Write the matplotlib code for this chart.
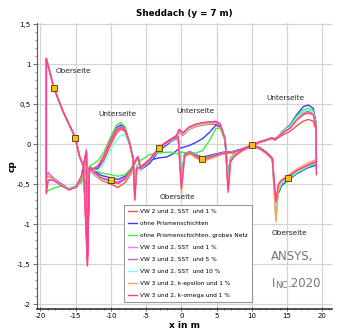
import matplotlib
matplotlib.use('Agg')
import matplotlib.pyplot as plt
from matplotlib.ticker import MultipleLocator, FuncFormatter
from matplotlib.lines import Line2D

plt.rcParams['axes.unicode_minus'] = False
plt.rcParams['font.family'] = ['DejaVu Sans']

# x positions (m) of the traced points: "ober" chain and "unter" chain
x_ober = [-19.17, -18.08, -16.8, -15.04, -14.5, -13.9, -13.34, -13.05, -12.4, -11.4,
          -10.03, -9.0, -8.0, -7.1, -6.5, -6.15, -5.8, -4.5, -3.17, -2.1,
          -1.2, -0.45, 0.0, 0.45, 1.2, 2.0, 2.94, 4.5, 5.9, 7.3,
          8.5, 10.04, 11.1, 12.1, 12.9, 13.41, 13.75, 14.2, 15.1, 16.35,
          17.8, 19.1]
x_unter = [-19.17, -19.17, -18.9, -18.2, -17.0, -15.9, -14.9, -14.2, -13.72, -13.48,
           -13.34, -13.05, -12.4, -11.8, -11.0, -10.0, -9.2, -8.6, -8.0, -7.3,
           -6.85, -6.62, -6.35, -5.8, -4.5, -3.17, -2.1, -1.2, -0.7, -0.3,
           0.2, 1.0, 2.0, 3.0, 4.0, 4.9, 5.5, 6.2, 6.63, 6.95,
           7.4, 8.5, 10.04, 11.1, 12.2, 12.8, 13.3, 13.75, 14.45, 15.4,
           16.35, 17.3, 18.0, 18.7, 19.1, 19.15]

o_red = [1.07, 0.70, 0.41, 0.08, -0.14, -0.28, -1.45, -0.32, -0.38, -0.45, -0.50, -0.54, -0.48, -0.36, -0.22, -0.18, -0.31, -0.22, -0.07, 0.01, 0.06, 0.08, -0.50, -0.15, -0.11, -0.16, -0.20, -0.16, -0.12, -0.11, -0.08, -0.02, -0.06, -0.12, -0.19, -0.75, -0.52, -0.45, -0.41, -0.33, -0.27, -0.22]
o_blue = [1.07, 0.70, 0.41, 0.08, -0.14, -0.28, -0.80, -0.29, -0.33, -0.39, -0.42, -0.44, -0.40, -0.30, -0.20, -0.18, -0.32, -0.24, -0.08, -0.01, 0.05, 0.07, -0.42, -0.12, -0.09, -0.13, -0.16, -0.13, -0.10, -0.09, -0.06, -0.01, -0.04, -0.10, -0.17, -0.82, -0.62, -0.52, -0.45, -0.37, -0.30, -0.26]
o_green = [1.07, 0.70, 0.41, 0.08, -0.14, -0.28, -0.78, -0.27, -0.32, -0.36, -0.38, -0.40, -0.38, -0.30, -0.21, -0.18, -0.28, -0.19, -0.05, 0.02, 0.06, 0.08, -0.38, -0.13, -0.10, -0.14, -0.18, -0.14, -0.11, -0.10, -0.07, -0.01, -0.05, -0.11, -0.18, -0.95, -0.60, -0.50, -0.44, -0.36, -0.29, -0.24]
o_magenta = [1.07, 0.70, 0.41, 0.08, -0.14, -0.28, -1.40, -0.30, -0.35, -0.42, -0.45, -0.47, -0.42, -0.31, -0.19, -0.15, -0.29, -0.19, -0.04, 0.03, 0.08, 0.10, -0.52, -0.14, -0.10, -0.15, -0.19, -0.15, -0.11, -0.10, -0.07, -0.01, -0.05, -0.11, -0.18, -0.78, -0.53, -0.46, -0.41, -0.33, -0.26, -0.21]
o_purple = [1.07, 0.70, 0.41, 0.08, -0.14, -0.28, -1.35, -0.31, -0.36, -0.43, -0.46, -0.48, -0.43, -0.32, -0.20, -0.16, -0.30, -0.20, -0.05, 0.02, 0.07, 0.09, -0.50, -0.14, -0.10, -0.15, -0.19, -0.15, -0.11, -0.10, -0.07, -0.01, -0.05, -0.11, -0.18, -0.88, -0.56, -0.47, -0.42, -0.34, -0.27, -0.22]
o_cyan = [1.07, 0.70, 0.41, 0.08, -0.14, -0.28, -1.20, -0.32, -0.37, -0.44, -0.48, -0.50, -0.45, -0.34, -0.21, -0.17, -0.31, -0.21, -0.06, 0.01, 0.06, 0.08, -0.48, -0.14, -0.10, -0.15, -0.19, -0.15, -0.11, -0.10, -0.07, -0.01, -0.05, -0.11, -0.18, -0.85, -0.57, -0.48, -0.43, -0.35, -0.28, -0.23]
o_orange = [1.07, 0.70, 0.41, 0.08, -0.14, -0.28, -1.30, -0.31, -0.36, -0.43, -0.46, -0.49, -0.44, -0.33, -0.21, -0.17, -0.30, -0.20, -0.05, 0.02, 0.07, 0.09, -0.62, -0.16, -0.12, -0.17, -0.22, -0.17, -0.12, -0.11, -0.07, -0.01, -0.05, -0.11, -0.18, -0.97, -0.55, -0.45, -0.39, -0.31, -0.24, -0.19]
o_pink = [1.07, 0.70, 0.41, 0.08, -0.14, -0.28, -1.52, -0.30, -0.35, -0.42, -0.46, -0.49, -0.43, -0.32, -0.20, -0.16, -0.30, -0.20, -0.05, 0.02, 0.07, 0.09, -0.55, -0.14, -0.10, -0.15, -0.19, -0.15, -0.11, -0.10, -0.07, -0.01, -0.05, -0.11, -0.18, -0.72, -0.50, -0.45, -0.41, -0.33, -0.27, -0.22]

u_red = [1.07, -0.37, -0.36, -0.42, -0.50, -0.56, -0.54, -0.45, -0.25, -0.12,
         -1.45,
         -0.31, -0.33, -0.30, -0.20, 0.00, 0.14, 0.19, 0.16, -0.02, -0.20,
         -0.68,
         -0.32, -0.31, -0.21, -0.06, 0.01, 0.06, 0.09, 0.14, 0.11, 0.18, 0.22, 0.24, 0.25, 0.25, 0.22, 0.05,
         -0.57,
         -0.22, -0.16, -0.09, -0.02, 0.02, 0.05, 0.07, 0.05, 0.08, 0.12, 0.16, 0.23, 0.29, 0.31, 0.29, 0.18, -0.30]
u_blue = [1.07, -0.48, -0.45, -0.43, -0.50, -0.56, -0.52, -0.40, -0.18, -0.08,
          -0.80,
          -0.29, -0.32, -0.30, -0.15, 0.08, 0.21, 0.24, 0.20, 0.00, -0.18,
          -0.50,
          -0.30, -0.30, -0.20, -0.17, -0.16, -0.12, -0.08, -0.05, -0.04, -0.02, 0.02, 0.07, 0.15, 0.24, 0.22, 0.05,
          -0.40,
          -0.18, -0.13, -0.07, 0.00, 0.03, 0.06, 0.08, 0.07, 0.10, 0.17, 0.24, 0.37, 0.47, 0.49, 0.45, 0.28, -0.26]
u_green = [1.07, -0.60, -0.58, -0.55, -0.52, -0.55, -0.52, -0.48, -0.38, -0.28,
           -0.78,
           -0.27, -0.24, -0.20, -0.10, 0.10, 0.24, 0.27, 0.22, 0.02, -0.17,
           -0.45,
           -0.28, -0.20, -0.13, -0.11, -0.10, -0.10, -0.12, -0.10, -0.10, -0.11, -0.11, -0.08, 0.05, 0.20, 0.20, 0.05,
           -0.35,
           -0.17, -0.13, -0.07, -0.01, 0.03, 0.06, 0.08, 0.07, 0.10, 0.17, 0.23, 0.35, 0.43, 0.45, 0.42, 0.26, -0.24]
u_magenta = [1.07, -0.40, -0.35, -0.42, -0.52, -0.57, -0.53, -0.40, -0.18, -0.06,
             -1.40,
             -0.30, -0.30, -0.26, -0.14, 0.06, 0.19, 0.22, 0.19, 0.00, -0.18,
             -0.60,
             -0.30, -0.29, -0.19, -0.04, 0.03, 0.08, 0.11, 0.19, 0.14, 0.21, 0.25, 0.27, 0.28, 0.29, 0.26, 0.07,
             -0.55,
             -0.22, -0.15, -0.08, -0.01, 0.03, 0.06, 0.08, 0.06, 0.09, 0.15, 0.21, 0.32, 0.40, 0.42, 0.39, 0.24, -0.30]
u_purple = [1.07, -0.43, -0.40, -0.43, -0.51, -0.57, -0.53, -0.42, -0.20, -0.10,
            -1.35,
            -0.30, -0.30, -0.27, -0.16, 0.04, 0.17, 0.21, 0.18, -0.01, -0.19,
            -0.60,
            -0.31, -0.30, -0.20, -0.05, 0.02, 0.07, 0.10, 0.17, 0.13, 0.20, 0.24, 0.26, 0.27, 0.28, 0.25, 0.06,
            -0.50,
            -0.20, -0.15, -0.08, -0.01, 0.03, 0.06, 0.08, 0.06, 0.09, 0.15, 0.21, 0.32, 0.39, 0.41, 0.38, 0.24, -0.22]
u_cyan = [1.07, -0.46, -0.45, -0.44, -0.51, -0.56, -0.52, -0.43, -0.22, -0.12,
          -1.20,
          -0.32, -0.33, -0.32, -0.24, -0.06, 0.06, 0.11, 0.12, -0.02, -0.20,
          -0.55,
          -0.32, -0.31, -0.21, -0.06, 0.01, 0.06, 0.09, 0.15, 0.12, 0.19, 0.23, 0.25, 0.26, 0.27, 0.24, 0.06,
          -0.48,
          -0.19, -0.14, -0.08, -0.01, 0.03, 0.06, 0.08, 0.06, 0.09, 0.16, 0.22, 0.33, 0.41, 0.43, 0.40, 0.25, -0.23]
u_orange = [1.07, -0.42, -0.40, -0.44, -0.52, -0.57, -0.53, -0.42, -0.22, -0.10,
            -1.30,
            -0.31, -0.31, -0.27, -0.15, 0.05, 0.18, 0.21, 0.18, -0.01, -0.19,
            -0.60,
            -0.31, -0.30, -0.20, -0.05, 0.02, 0.07, 0.10, 0.16, 0.13, 0.20, 0.24, 0.26, 0.27, 0.27, 0.24, 0.06,
            -0.52,
            -0.20, -0.15, -0.08, -0.01, 0.03, 0.06, 0.08, 0.06, 0.09, 0.15, 0.20, 0.31, 0.38, 0.40, 0.37, 0.23, -0.19]
u_pink = [1.07, -0.62, -0.45, -0.45, -0.52, -0.57, -0.53, -0.41, -0.20, -0.09,
          -1.52,
          -0.30, -0.31, -0.27, -0.15, 0.05, 0.18, 0.21, 0.18, -0.01, -0.19,
          -0.70,
          -0.30, -0.29, -0.19, -0.04, 0.03, 0.08, 0.11, 0.18, 0.14, 0.21, 0.25, 0.27, 0.28, 0.28, 0.25, 0.07,
          -0.60,
          -0.22, -0.16, -0.08, -0.01, 0.03, 0.06, 0.08, 0.06, 0.09, 0.15, 0.20, 0.30, 0.37, 0.39, 0.37, 0.23, -0.38]

series_labels = ["VW 2 und 2, SST  und 1 %", "ohne Prismenschichten",
                 "ohne Prismenschichten, grobes Netz", "VW 3 und 2, SST  und 1 %",
                 "VW 3 und 2, SST  und 5 %", "VW 3 und 2, SST  und 10 %",
                 "VW 3 und 2, k-epsilon und 1 %", "VW 3 und 2, k-omega und 1 %"]
series_colors = ["#ff4d4d", "#3b3bff", "#3cf03c", "#ff70ff",
                 "#b46ec0", "#72ffff", "#ffa25e", "#ff3d8e"]
ober_values = [o_red, o_blue, o_green, o_magenta, o_purple, o_cyan, o_orange, o_pink]
unter_values = [u_red, u_blue, u_green, u_magenta, u_purple, u_cyan, u_orange, u_pink]

marker_x = [-18.08, -15.04, -10.03, -3.17, 2.94, 10.04, 15.1]
marker_y = [0.70, 0.08, -0.45, -0.05, -0.19, -0.01, -0.42]

fig = plt.figure(figsize=(3.39, 3.34), dpi=100)
ax = fig.add_axes([0.109, 0.075, 0.870, 0.857])

for ov, uv, c in zip(ober_values, unter_values, series_colors):
    ax.plot(x_ober, ov, color=c, lw=1.0, solid_joinstyle='round')
    ax.plot(x_unter, uv, color=c, lw=1.0, solid_joinstyle='round')

ax.plot(marker_x, marker_y, 's', ms=4.6, mfc='#ffc000', mec='#5a4820', mew=0.7, zorder=6)

ax.set_xlim(-20.5, 21.35)
ax.set_ylim(-2.06, 1.52)
ax.xaxis.set_major_locator(MultipleLocator(5))
ax.xaxis.set_minor_locator(MultipleLocator(1))
ax.yaxis.set_major_locator(MultipleLocator(0.5))
ax.yaxis.set_minor_locator(MultipleLocator(0.1))
ax.yaxis.set_major_formatter(FuncFormatter(lambda v, p: f"{v:g}".replace('.', ',')))
ax.xaxis.set_major_formatter(FuncFormatter(lambda v, p: f"{v:g}"))
ax.grid(True, which='major', color='#d4d4d4', lw=0.9)
ax.set_axisbelow(True)
for s in ['top', 'right']:
    ax.spines[s].set_visible(False)
ax.spines['left'].set_color('#555555')
ax.spines['bottom'].set_color('#333333')
ax.spines['bottom'].set_linewidth(1.2)
ax.tick_params(axis='both', which='major', labelsize=5, length=3, width=0.6, color='#555555', pad=1.5)
ax.tick_params(axis='both', which='minor', length=1.5, width=0.5, color='#555555')
ax.tick_params(axis='x', which='both', direction='inout')

ax.set_title("Sheddach (y = 7 m)", fontsize=6.3, fontweight='bold', pad=5)
ax.set_xlabel("x in m", fontsize=6.5, fontweight='bold', labelpad=1)
ax.set_ylabel("cp", fontsize=6.5, fontweight='bold', labelpad=0)

ann_kw = dict(fontsize=5.3, ha='center', va='center', color='#222222')
ax.text(-15.35, 0.91, "Oberseite", **ann_kw)
ax.text(-9.1, 0.38, "Unterseite", **ann_kw)
ax.text(2.05, 0.42, "Unterseite", **ann_kw)
ax.text(14.8, 0.58, "Unterseite", **ann_kw)
ax.text(-0.54, -0.66, "Oberseite", **ann_kw)
ax.text(15.26, -1.11, "Oberseite", **ann_kw)

handles = [Line2D([], [], color=c, lw=1.0) for c in series_colors]
leg = ax.legend(handles, series_labels, loc='lower left', bbox_to_anchor=(0.285, 0.014),
                fontsize=4.2, handlelength=1.6, handletextpad=0.5, labelspacing=1.2,
                borderpad=0.65, frameon=True, fancybox=False, framealpha=1)
leg.get_frame().set_edgecolor('#999999')
leg.get_frame().set_linewidth(0.8)

ax.text(12.75, -1.40, "ANSYS,", fontsize=8.5, color='#777777', ha='left', va='center')
ti = ax.text(12.85, -1.78, "I", fontsize=8.5, color='#777777', ha='left', va='baseline')
tn = ax.annotate("NC", xy=(1, 0), xycoords=ti, fontsize=6.3, color='#777777', ha='left', va='bottom')
ax.annotate(".2020", xy=(1, 0), xycoords=tn, fontsize=8.5, color='#777777', ha='left', va='bottom')

fig.savefig("out.png", dpi=100)
